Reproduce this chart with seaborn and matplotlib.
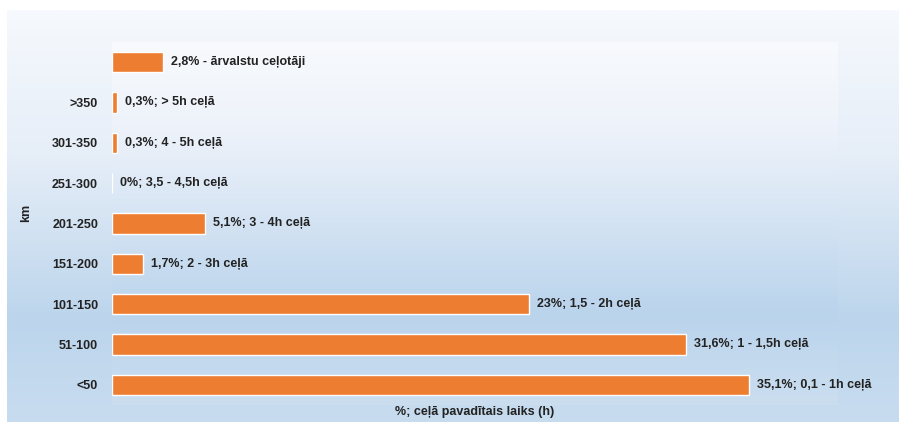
import numpy as np
import pandas as pd
import matplotlib
matplotlib.use("Agg")
import matplotlib.pyplot as plt
from matplotlib.colors import LinearSegmentedColormap
import seaborn as sns

# ---- data ----
categories = ["ārvalstu", ">350", "301-350", "251-300", "201-250",
              "151-200", "101-150", "51-100", "<50"]
tick_labels = ["", ">350", "301-350", "251-300", "201-250",
               "151-200", "101-150", "51-100", "<50"]
values = [2.8, 0.3, 0.3, 0.0, 5.1, 1.7, 23.0, 31.6, 35.1]
annotations = ["2,8% - ārvalstu ceļotāji", "0,3%; > 5h ceļā", "0,3%; 4 - 5h ceļā",
               "0%; 3,5 - 4,5h ceļā", "5,1%; 3 - 4h ceļā", "1,7%; 2 - 3h ceļā",
               "23%; 1,5 - 2h ceļā", "31,6%; 1 - 1,5h ceļā", "35,1%; 0,1 - 1h ceļā"]
x_label = "%; ceļā pavadītais laiks (h)"
y_label = "km"

df = pd.DataFrame({"cat": categories, "val": values})

sns.set_theme(style="white")
plt.rcParams["font.family"] = ["Liberation Sans", "DejaVu Sans"]

FS = 9
TXT = "#222222"

W, H = 899, 422
fig = plt.figure(figsize=(W / 100, H / 100), dpi=100)
fig.patch.set_facecolor("white")

# outer gradient background
outer_cmap = LinearSegmentedColormap.from_list(
    "outer", [(0, "#f6f9fd"), (0.35, "#e6eef8"), (0.75, "#bcd5ec"), (1, "#c8dcef")])
bg = fig.add_axes([7 / W, 0, 1 - 7 / W, (H - 10) / H], zorder=-10)
grad = np.linspace(0, 1, 256).reshape(-1, 1)
bg.imshow(grad, aspect="auto", cmap=outer_cmap, extent=[0, 1, 1, 0])
bg.set_axis_off()

# plot area
left, right, top, bottom = 112, 838, 42, 405
pos = [left / W, (H - bottom) / H, (right - left) / W, (bottom - top) / H]
inner_cmap = LinearSegmentedColormap.from_list(
    "inner", [(0, "#f8fafd"), (0.25, "#edf2fa"), (0.75, "#bad4ec"), (1, "#cbdef0")])
bg2 = fig.add_axes(pos, zorder=-5)
bg2.imshow(grad, aspect="auto", cmap=inner_cmap, extent=[0, 1, 1, 0])
bg2.set_axis_off()

ax = fig.add_axes(pos, zorder=1)
ax.patch.set_visible(False)
sns.barplot(data=df, x="val", y="cat", orient="h", color="#ED7D31",
            saturation=1, width=0.5, edgecolor="white", linewidth=1, ax=ax)

ax.set_xlim(0, 40)
ax.set_ylim(8.5, -0.5)
ax.set_xticks([])
ax.set_yticks(range(len(tick_labels)))
ax.set_yticklabels(tick_labels, fontsize=FS, fontweight="bold", color=TXT)
ax.tick_params(axis="y", length=0, pad=10)
for s in ax.spines.values():
    s.set_visible(False)

for i, (v, t) in enumerate(zip(values, annotations)):
    ax.annotate(t, xy=(v, i), xytext=(8, 0), textcoords="offset pixels",
                va="center", ha="left", fontsize=FS, fontweight="bold", color=TXT)

ax.set_xlabel(x_label, fontsize=FS, fontweight="bold", color=TXT, labelpad=0)
ax.xaxis.set_label_coords(0.5, -0.003)
ax.set_ylabel(y_label, fontsize=FS, fontweight="bold", color=TXT)
ax.yaxis.set_label_coords((32 - left) / (right - left), 0.53)

fig.savefig("out.png", dpi=100)
